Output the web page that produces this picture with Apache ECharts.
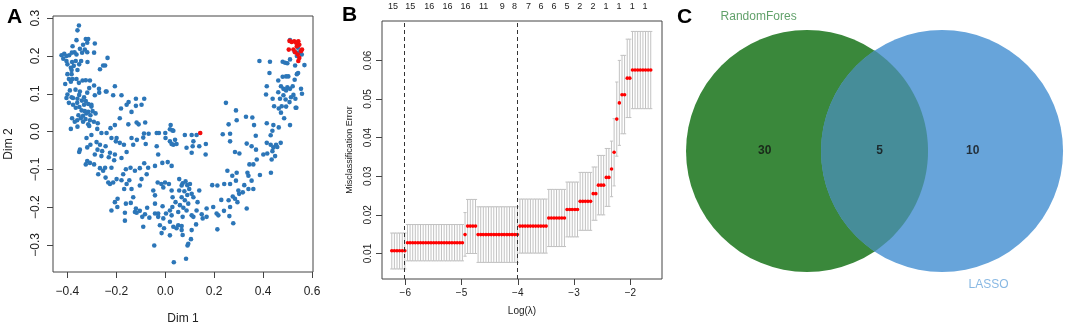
<!DOCTYPE html>
<html>
<head>
  <meta charset="utf-8">
  <script src="https://cdn.jsdelivr.net/npm/echarts@6.0.0/dist/echarts.min.js"></script>
</head>
<body style="margin: 0">
  <div id="container" style="width: 1065px; height: 330px"></div>
  <script>
    // ---- panel A : PCA of samples ----
    var pcaBlue = [
      [-0.353,0.281],[-0.359,0.268],[-0.363,0.242],[-0.325,0.245],[-0.315,0.245],[-0.319,0.235],[-0.288,0.233],
      [-0.336,0.230],[-0.379,0.226],[-0.349,0.219],[-0.329,0.217],[-0.371,0.210],[-0.340,0.209],[-0.393,0.202],
      [-0.382,0.209],[-0.363,0.204],[-0.319,0.210],[-0.291,0.209],[-0.318,0.184],[-0.344,0.187],[-0.366,0.187],
      [-0.381,0.184],[-0.404,0.200],[-0.413,0.206],[-0.424,0.202],[-0.417,0.193],[-0.404,0.187],[-0.400,0.178],
      [-0.386,0.169],[-0.374,0.174],[-0.352,0.178],[-0.383,0.163],[-0.359,0.163],[-0.383,0.152],[-0.400,0.152],
      [-0.379,0.139],[-0.363,0.139],[-0.338,0.135],[-0.394,0.139],[-0.409,0.126],[-0.386,0.132],[-0.353,0.129],
      [-0.325,0.136],[-0.308,0.135],[-0.291,0.122],[-0.271,0.113],[-0.311,0.115],[-0.270,0.103],[-0.243,0.106],
      [-0.288,0.096],[-0.319,0.103],[-0.349,0.106],[-0.367,0.111],[-0.390,0.109],[-0.400,0.098],[-0.404,0.089],
      [-0.383,0.091],[-0.352,0.097],[-0.377,0.089],[-0.359,0.087],[-0.332,0.091],[-0.394,0.076],[-0.377,0.071],
      [-0.360,0.076],[-0.341,0.082],[-0.325,0.081],[-0.315,0.073],[-0.302,0.066],[-0.332,0.071],[-0.351,0.065],
      [-0.366,0.063],[-0.342,0.056],[-0.329,0.054],[-0.315,0.052],[-0.297,0.054],[-0.322,0.048],[-0.355,0.043],
      [-0.336,0.042],[-0.306,0.043],[-0.285,0.048],[-0.345,0.035],[-0.326,0.033],[-0.308,0.030],[-0.292,0.026],
      [-0.360,0.030],[-0.381,0.035],[-0.370,0.026],[-0.336,0.026],[-0.315,0.019],[-0.276,0.022],[-0.359,0.013],
      [-0.386,0.007],[-0.311,0.015],[-0.302,0.071],[-0.267,0.165],[-0.254,0.175],[-0.246,0.175],[-0.236,0.195],
      [-0.240,0.106],[-0.206,0.120],[-0.213,0.096],[-0.179,0.096],[-0.150,0.078],[-0.158,0.071],[-0.120,0.087],
      [-0.086,0.087],[-0.097,0.071],[-0.181,0.061],[-0.120,0.068],[-0.138,0.052],[-0.117,0.024],[-0.109,0.019],
      [-0.082,0.024],[-0.151,0.019],[-0.186,0.035],[-0.206,0.017],[-0.224,0.009],[-0.220,-0.017],[-0.199,-0.017],
      [-0.240,-0.004],[-0.261,-0.004],[-0.278,0.007],[-0.302,-0.009],[-0.322,-0.017],[-0.306,-0.035],[-0.319,-0.042],
      [-0.349,-0.048],[-0.352,-0.054],[-0.281,-0.028],[-0.267,-0.035],[-0.277,-0.048],[-0.258,-0.052],[-0.244,-0.039],
      [-0.261,-0.065],[-0.288,-0.061],[-0.319,-0.078],[-0.308,-0.083],[-0.325,-0.087],[-0.291,-0.087],[-0.267,-0.097],
      [-0.254,-0.104],[-0.274,-0.113],[-0.244,-0.122],[-0.233,-0.135],[-0.226,-0.139],[-0.213,-0.135],[-0.179,-0.070],
      [-0.169,-0.035],[-0.186,-0.030],[-0.158,-0.054],[-0.131,-0.035],[-0.116,-0.022],[-0.090,-0.016],[-0.080,-0.033],
      [-0.068,-0.006],[-0.087,-0.005],[-0.138,-0.017],[-0.226,-0.056],[-0.206,-0.061],[-0.209,-0.076],[-0.231,-0.068],
      [-0.202,-0.026],[-0.246,-0.096],[-0.220,-0.096],[-0.161,-0.100],[-0.172,-0.113],[-0.142,-0.096],[-0.124,-0.104],
      [-0.104,-0.097],[-0.086,-0.084],[-0.076,-0.113],[-0.097,-0.126],[-0.104,-0.143],[-0.138,-0.152],[-0.158,-0.139],
      [-0.179,-0.129],[-0.199,-0.126],[-0.147,-0.129],[-0.168,-0.152],[-0.131,-0.174],[-0.195,-0.178],[-0.206,-0.187],
      [-0.220,-0.209],[-0.196,-0.200],[-0.165,-0.215],[-0.141,-0.189],[-0.161,-0.191],[-0.124,-0.213],[-0.120,-0.204],
      [-0.104,-0.210],[-0.074,-0.202],[-0.083,-0.219],[-0.065,-0.228],[-0.042,-0.217],[-0.094,-0.226],[-0.090,-0.252],
      [-0.165,-0.236],[-0.117,-0.215],
      [-0.035,-0.004],[0.000,-0.004],[0.022,0.017],[0.029,0.003],[0.001,-0.017],[0.019,-0.026],[0.040,-0.022],
      [0.033,-0.035],[-0.035,-0.039],[-0.029,-0.061],[-0.012,-0.083],[0.010,-0.081],[0.026,-0.091],[-0.042,-0.091],
      [-0.070,-0.096],[-0.049,-0.156],[-0.042,-0.169],[-0.031,-0.135],[-0.016,-0.139],[-0.008,-0.148],[-0.001,-0.135],
      [0.015,-0.139],[0.026,-0.156],[0.057,-0.126],[0.071,-0.137],[0.083,-0.132],[0.090,-0.142],[0.101,-0.139],
      [0.067,-0.143],[0.098,-0.152],[0.078,-0.158],[0.057,-0.156],[0.090,-0.168],[0.108,-0.165],[0.139,-0.156],
      [0.115,-0.174],[0.132,-0.187],[0.030,-0.174],[0.042,-0.187],[0.067,-0.174],[0.080,-0.182],[0.094,-0.191],
      [0.060,-0.195],[0.074,-0.202],[0.029,-0.200],[0.019,-0.209],[0.003,-0.217],[-0.011,-0.198],[-0.029,-0.217],
      [0.026,-0.222],[0.053,-0.213],[0.071,-0.226],[0.087,-0.209],[0.108,-0.222],[0.128,-0.209],[0.149,-0.219],
      [0.153,-0.230],[0.169,-0.204],[0.196,-0.200],[0.210,-0.217],[0.115,-0.226],[0.053,-0.248],[0.067,-0.250],
      [0.046,-0.256],[0.033,-0.252],[-0.022,-0.248],[-0.005,-0.256],[-0.015,-0.269],[0.019,-0.275],[0.067,-0.261],
      [0.071,-0.274],[0.108,-0.261],[0.126,-0.246],[0.169,-0.226],[-0.045,-0.302],[0.035,-0.346],[0.085,-0.337],
      [0.091,-0.302],[0.094,-0.297],[0.105,-0.285],[-0.029,-0.226],[-0.042,-0.191],[0.019,-0.239],[-0.008,-0.230],
      [-0.026,-0.004],[0.019,0.006],[0.033,0.002],[0.026,-0.033],[0.046,-0.033],[0.080,-0.009],[0.108,-0.009],
      [0.128,-0.009],[0.115,-0.026],[0.112,-0.039],[0.139,-0.039],[0.166,-0.033],[0.165,-0.061],[0.108,-0.056],
      [0.087,-0.043],
      [0.248,0.076],[0.289,0.056],[0.292,0.030],[0.259,0.019],[0.265,-0.006],[0.235,-0.007],[0.265,-0.026],
      [0.330,0.039],[0.356,0.037],[0.363,0.017],[0.370,-0.011],[0.333,-0.032],[0.353,-0.039],[0.371,-0.048],
      [0.374,-0.074],[0.360,-0.087],[0.344,-0.087],[0.336,-0.109],[0.340,-0.117],[0.353,-0.130],[0.360,-0.152],
      [0.340,-0.152],[0.323,-0.142],[0.317,-0.161],[0.285,-0.054],[0.303,-0.058],[0.254,-0.104],[0.274,-0.117],
      [0.265,-0.139],[0.292,-0.109],[0.289,-0.130],[0.241,-0.139],[0.213,-0.143],[0.192,-0.142],[0.229,-0.181],
      [0.259,-0.182],[0.276,-0.172],[0.285,-0.178],[0.295,-0.187],[0.299,-0.156],[0.302,-0.165],[0.265,-0.200],
      [0.262,-0.224],[0.278,-0.243],[0.240,-0.210],[0.217,-0.222],[0.333,-0.204],[0.213,-0.259],[0.387,-0.115],
      [0.417,-0.058],[0.431,-0.035],[0.438,-0.052],[0.442,-0.042],[0.453,-0.035],[0.458,-0.041],[0.472,-0.030],
      [0.435,-0.074],[0.449,-0.065],[0.401,-0.061],[0.415,-0.030],[0.432,-0.109],[0.431,-0.010],[0.438,0.002],
      [0.442,0.017],[0.464,0.011],[0.486,0.035],[0.473,0.050],[0.464,0.061],[0.476,0.067],[0.494,0.066],
      [0.508,0.078],[0.510,0.017],[0.536,0.063],[0.415,0.022],
      [0.385,0.187],[0.428,0.185],[0.480,0.185],[0.490,0.182],[0.426,0.155],[0.415,0.120],[0.412,0.098],
      [0.439,0.087],[0.469,0.087],[0.492,0.085],[0.445,0.067],[0.462,0.135],[0.480,0.145],[0.494,0.146],
      [0.503,0.146],[0.473,0.120],[0.483,0.113],[0.494,0.109],[0.499,0.117],[0.510,0.113],[0.462,0.104],
      [0.483,0.096],[0.521,0.120],[0.529,0.137],[0.538,0.152],[0.543,0.155],[0.531,0.175],[0.555,0.113],
      [0.559,0.100],[0.524,0.097],[0.514,0.091],[0.532,0.087],[0.533,0.063],[0.569,0.176],[0.544,0.209],
      [0.510,0.191],[0.499,0.181],
      [0.510,0.242],[0.542,0.222],[0.551,0.209],[0.529,0.211],[0.538,0.200],[0.558,0.204]
    ];
    var pcaRed = [
      [0.143,-0.004],
      [0.508,0.240],[0.517,0.237],[0.527,0.239],[0.538,0.236],[0.544,0.239],[0.548,0.230],[0.538,0.226],
      [0.524,0.217],[0.505,0.217],[0.531,0.210],[0.542,0.204],[0.548,0.195],[0.544,0.187],[0.555,0.213],
      [0.559,0.217],[0.535,0.235]
    ];
    var pcaXTicks = [-0.4, -0.2, 0, 0.2, 0.4, 0.6];
    var pcaYTicks = [-0.3, -0.2, -0.1, 0, 0.1, 0.2, 0.3];

    // ---- panel B : LASSO cross-validation ----
    var logLambda = [
      -6.240,-6.194,-6.147,-6.101,-6.054,-6.008,-5.961,-5.915,-5.868,-5.822,
      -5.775,-5.729,-5.682,-5.636,-5.589,-5.543,-5.496,-5.450,-5.403,-5.357,
      -5.310,-5.264,-5.217,-5.171,-5.124,-5.078,-5.031,-4.985,-4.938,-4.892,
      -4.845,-4.799,-4.752,-4.706,-4.659,-4.613,-4.566,-4.520,-4.473,-4.427,
      -4.380,-4.334,-4.287,-4.241,-4.194,-4.148,-4.101,-4.055,-4.008,-3.962,
      -3.915,-3.869,-3.822,-3.776,-3.729,-3.683,-3.636,-3.590,-3.543,-3.497,
      -3.450,-3.404,-3.357,-3.311,-3.264,-3.218,-3.171,-3.125,-3.078,-3.032,
      -2.985,-2.939,-2.892,-2.846,-2.799,-2.753,-2.706,-2.660,-2.613,-2.567,
      -2.520,-2.474,-2.427,-2.381,-2.334,-2.288,-2.241,-2.195,-2.148,-2.102,
      -2.055,-2.009,-1.962,-1.916,-1.869,-1.823,-1.776,-1.730,-1.683,-1.637
    ];
    var cvMean = [
      0.0107,0.0107,0.0107,0.0107,0.0107,0.0107,0.0128,0.0128,0.0128,0.0128,
      0.0128,0.0128,0.0128,0.0128,0.0128,0.0128,0.0128,0.0128,0.0128,0.0128,
      0.0128,0.0128,0.0128,0.0128,0.0128,0.0128,0.0128,0.0128,0.0149,0.0171,
      0.0171,0.0171,0.0171,0.0149,0.0149,0.0149,0.0149,0.0149,0.0149,0.0149,
      0.0149,0.0149,0.0149,0.0149,0.0149,0.0149,0.0149,0.0149,0.0149,0.0171,
      0.0171,0.0171,0.0171,0.0171,0.0171,0.0171,0.0171,0.0171,0.0171,0.0171,
      0.0192,0.0192,0.0192,0.0192,0.0192,0.0192,0.0192,0.0214,0.0214,0.0214,
      0.0214,0.0214,0.0235,0.0235,0.0235,0.0235,0.0235,0.0255,0.0255,0.0277,
      0.0277,0.0277,0.0297,0.0297,0.0319,0.0362,0.0448,0.0490,0.0511,0.0511,
      0.0554,0.0554,0.0575,0.0575,0.0575,0.0575,0.0575,0.0575,0.0575,0.0575
    ];
    var cvUp = [
      0.0153,0.0153,0.0153,0.0153,0.0153,0.0153,0.0175,0.0175,0.0175,0.0175,
      0.0175,0.0175,0.0175,0.0175,0.0175,0.0175,0.0175,0.0175,0.0175,0.0175,
      0.0175,0.0175,0.0175,0.0175,0.0175,0.0175,0.0175,0.0175,0.0206,0.0240,
      0.0240,0.0240,0.0240,0.0221,0.0221,0.0221,0.0221,0.0221,0.0221,0.0221,
      0.0221,0.0221,0.0221,0.0221,0.0221,0.0221,0.0221,0.0221,0.0221,0.0241,
      0.0241,0.0241,0.0241,0.0241,0.0241,0.0241,0.0241,0.0241,0.0241,0.0241,
      0.0266,0.0266,0.0266,0.0266,0.0266,0.0266,0.0266,0.0285,0.0285,0.0285,
      0.0285,0.0285,0.0310,0.0310,0.0310,0.0310,0.0310,0.0324,0.0324,0.0354,
      0.0354,0.0354,0.0372,0.0372,0.0391,0.0449,0.0544,0.0600,0.0613,0.0613,
      0.0655,0.0655,0.0675,0.0675,0.0675,0.0675,0.0675,0.0675,0.0675,0.0675
    ];
    var cvLo = [
      0.0060,0.0060,0.0060,0.0060,0.0060,0.0060,0.0081,0.0081,0.0081,0.0081,
      0.0081,0.0081,0.0081,0.0081,0.0081,0.0081,0.0081,0.0081,0.0081,0.0081,
      0.0081,0.0081,0.0081,0.0081,0.0081,0.0081,0.0081,0.0081,0.0093,0.0100,
      0.0100,0.0100,0.0100,0.0077,0.0077,0.0077,0.0077,0.0077,0.0077,0.0077,
      0.0077,0.0077,0.0077,0.0077,0.0077,0.0077,0.0077,0.0077,0.0077,0.0101,
      0.0101,0.0101,0.0101,0.0101,0.0101,0.0101,0.0101,0.0101,0.0101,0.0101,
      0.0118,0.0118,0.0118,0.0118,0.0118,0.0118,0.0118,0.0143,0.0143,0.0143,
      0.0143,0.0143,0.0160,0.0160,0.0160,0.0160,0.0160,0.0186,0.0186,0.0200,
      0.0200,0.0200,0.0222,0.0222,0.0247,0.0275,0.0352,0.0380,0.0410,0.0410,
      0.0452,0.0452,0.0475,0.0475,0.0475,0.0475,0.0475,0.0475,0.0475,0.0475
    ];
    var lambdaMinLog = -6.008;
    var lambda1seLog = -4.008;
    var nzeroPos = [-6.219,-5.911,-5.573,-5.248,-4.928,-4.608,-4.276,-4.057,-3.808,
                    -3.588,-3.356,-3.125,-2.901,-2.663,-2.432,-2.201,-1.964,-1.739];
    var nzeroCount = ['15','15','16','16','16','11','9','8','7','6','6','5','2','2','1','1','1','1'];
    var cvXTicks = [-6, -5, -4, -3, -2];
    var cvYTicks = [0.01, 0.02, 0.03, 0.04, 0.05, 0.06];

    // ---- panel C : Venn diagram ----
    var vennSetNames = ['RandomFores', 'LASSO'];
    var vennCx = [0, 1.116];
    var vennCy = [0, 0];
    var vennR = [1, 1];
    var vennCounts = ['30', '5', '10'];
    var vennCountX = [-0.35, 0.60, 1.37];
    var vennNameX = [-0.40, 1.50];
    var vennNameY = [1.107, -1.107];

    var FONT = 'Liberation Sans, Arial, Helvetica, sans-serif';
    var dom = document.getElementById('container');
    var myChart = echarts.init(dom, null, { renderer: 'canvas' });

    function rNum(v, d) {
      var s = Math.abs(v) < 1e-9 ? (0).toFixed(d) : v.toFixed(d);
      return s.replace('-', '\u2212');
    }

    var option = {
      animation: false,
      title: [
        { text: 'A', left: 2, top: 2, textStyle: { fontFamily: FONT, fontSize: 21, fontWeight: 'bold', color: '#000' } },
        { text: 'B', left: 337, top: 0, textStyle: { fontFamily: FONT, fontSize: 21, fontWeight: 'bold', color: '#000' } },
        { text: 'C', left: 672, top: 2, textStyle: { fontFamily: FONT, fontSize: 21, fontWeight: 'bold', color: '#000' } }
      ],
      grid: [
        { left: 53, top: 16, width: 260, height: 260, show: true, borderColor: '#444', borderWidth: 1 },
        { left: 382, top: 21, width: 280, height: 258, show: true, borderColor: '#444', borderWidth: 1 },
        { left: 660, top: 0, width: 405, height: 330, show: false }
      ],
      xAxis: [
        {
          type: 'value', gridIndex: 0, min: -0.459, max: 0.604,
          axisLine: { show: false, onZero: false }, splitLine: { show: false },
          axisTick: { customValues: pcaXTicks, length: 6, lineStyle: { color: '#444' } },
          axisLabel: { customValues: pcaXTicks, margin: 14, fontSize: 12, fontFamily: FONT, color: '#222',
            formatter: function (v) { return rNum(v, 1); } },
          name: 'Dim 1', nameLocation: 'middle', nameGap: 41,
          nameTextStyle: { fontSize: 12, fontFamily: FONT, color: '#222' }
        },
        {
          type: 'value', gridIndex: 1, min: -6.414, max: -1.437,
          axisLine: { show: false, onZero: false }, splitLine: { show: false },
          axisTick: { customValues: cvXTicks, length: 6, lineStyle: { color: '#444' } },
          axisLabel: { customValues: cvXTicks, margin: 9, fontSize: 10, fontFamily: FONT, color: '#222',
            formatter: function (v) { return rNum(v, 0); } },
          name: 'Log(\u03bb)', nameLocation: 'middle', nameGap: 27,
          nameTextStyle: { fontSize: 10, fontFamily: FONT, color: '#222' }
        },
        {
          type: 'value', gridIndex: 1, position: 'top', min: -6.414, max: -1.437,
          axisLine: { show: false, onZero: false }, splitLine: { show: false }, axisTick: { show: false },
          axisLabel: { customValues: nzeroPos, margin: 10, fontSize: 9, fontFamily: FONT, color: '#222',
            formatter: function (v) {
              var best = 0;
              for (var i = 1; i < nzeroPos.length; i++) {
                if (Math.abs(nzeroPos[i] - v) < Math.abs(nzeroPos[best] - v)) best = i;
              }
              return nzeroCount[best];
            } }
        },
        { type: 'value', gridIndex: 2, min: -1.215, max: 2.132, show: false }
      ],
      yAxis: [
        {
          type: 'value', gridIndex: 0, min: -0.372, max: 0.306,
          axisLine: { show: false, onZero: false }, splitLine: { show: false },
          axisTick: { customValues: pcaYTicks, length: 6, lineStyle: { color: '#444' } },
          axisLabel: { customValues: pcaYTicks, rotate: 90, margin: 11, fontSize: 12, fontFamily: FONT, color: '#222',
            formatter: function (v) { return rNum(v, 1); } },
          name: 'Dim 2', nameLocation: 'middle', nameGap: 38,
          nameTextStyle: { fontSize: 12, fontFamily: FONT, color: '#222' }
        },
        {
          type: 'value', gridIndex: 1, min: 0.0034, max: 0.0702,
          axisLine: { show: false, onZero: false }, splitLine: { show: false },
          axisTick: { customValues: cvYTicks, length: 6, lineStyle: { color: '#444' } },
          axisLabel: { customValues: cvYTicks, rotate: 90, margin: 9, fontSize: 10, fontFamily: FONT, color: '#222',
            formatter: function (v) { return rNum(v, 2); } },
          name: 'Misclassification Error', nameLocation: 'middle', nameGap: 28,
          nameTextStyle: { fontSize: 9, fontFamily: FONT, color: '#222' }
        },
        { type: 'value', gridIndex: 2, min: -1.479, max: 1.248, show: false }
      ],
      series: [
        // A
        {
          type: 'scatter', xAxisIndex: 0, yAxisIndex: 0, data: pcaBlue,
          symbolSize: 4.6, itemStyle: { color: '#2c76b8', opacity: 1 }, z: 2, silent: true
        },
        {
          type: 'scatter', xAxisIndex: 0, yAxisIndex: 0, data: pcaRed,
          symbolSize: 4.6, itemStyle: { color: '#f20d0d', opacity: 1 }, z: 3, silent: true
        },
        // B error bars
        {
          type: 'custom', xAxisIndex: 1, yAxisIndex: 1, silent: true, z: 2,
          data: logLambda.map(function (x, i) { return [x, cvLo[i], cvUp[i]]; }),
          renderItem: function (params, api) {
            var top = api.coord([api.value(0), api.value(2)]);
            var bot = api.coord([api.value(0), api.value(1)]);
            var st = { stroke: '#c2c2c2', lineWidth: 1 };
            return {
              type: 'group',
              children: [
                { type: 'line', shape: { x1: top[0], y1: top[1], x2: bot[0], y2: bot[1] }, style: st },
                { type: 'line', shape: { x1: top[0] - 1.6, y1: top[1], x2: top[0] + 1.6, y2: top[1] }, style: st },
                { type: 'line', shape: { x1: bot[0] - 1.6, y1: bot[1], x2: bot[0] + 1.6, y2: bot[1] }, style: st }
              ]
            };
          }
        },
        {
          type: 'scatter', xAxisIndex: 1, yAxisIndex: 1, silent: true, z: 3,
          data: logLambda.map(function (x, i) { return [x, cvMean[i]]; }),
          symbolSize: 3.6, itemStyle: { color: '#ff0000', opacity: 1 },
          markLine: {
            silent: true, symbol: 'none', label: { show: false },
            lineStyle: { color: '#333', width: 1, type: [4, 3] },
            data: [{ xAxis: lambdaMinLog }, { xAxis: lambda1seLog }]
          }
        },
        // C circles
        {
          type: 'custom', xAxisIndex: 3, yAxisIndex: 2, silent: true, z: 2,
          data: vennCx.map(function (cx, i) { return [cx, vennCy[i], vennR[i], i]; }),
          renderItem: function (params, api) {
            var c = api.coord([api.value(0), api.value(1)]);
            var r = api.size([api.value(2), 0])[0];
            var colors = ['#3a883b', '#67a4da'];
            return { type: 'circle', shape: { cx: c[0], cy: c[1], r: r }, style: { fill: colors[api.value(3)] } };
          }
        },
        {
          type: 'custom', xAxisIndex: 3, yAxisIndex: 2, silent: true, z: 3,
          data: [[0]],
          renderItem: function (params, api) {
            var d = vennCx[1] - vennCx[0];
            var th = Math.acos(d / 2 / vennR[0]);
            var pts = [];
            var n = 60, k, a;
            for (k = 0; k <= n; k++) {
              a = -th + 2 * th * k / n;
              pts.push(api.coord([vennCx[0] + vennR[0] * Math.cos(a), vennCy[0] + vennR[0] * Math.sin(a)]));
            }
            for (k = 0; k <= n; k++) {
              a = Math.PI - th + 2 * th * k / n;
              pts.push(api.coord([vennCx[1] + vennR[1] * Math.cos(a), vennCy[1] + vennR[1] * Math.sin(a)]));
            }
            return { type: 'polygon', shape: { points: pts }, style: { fill: '#468d99' } };
          }
        },
        {
          type: 'scatter', xAxisIndex: 3, yAxisIndex: 2, silent: true, z: 4, symbolSize: 0,
          data: vennCountX.map(function (x, i) { return { value: [x, 0], name: vennCounts[i] }; }),
          label: { show: true, position: 'inside', formatter: '{b}', fontFamily: FONT, fontSize: 12,
            fontWeight: 'bold', color: '#111' }
        },
        {
          type: 'scatter', xAxisIndex: 3, yAxisIndex: 2, silent: true, z: 4, symbolSize: 0,
          data: vennNameX.map(function (x, i) {
            return { value: [x, vennNameY[i]], name: vennSetNames[i],
              label: { color: i === 0 ? '#3a8a45' : '#6aa6dc' } };
          }),
          label: { show: true, position: 'inside', formatter: '{b}', fontFamily: FONT, fontSize: 12 }
        }
      ]
    };

    myChart.setOption(option);
    window.addEventListener('resize', myChart.resize);
  </script>
</body>
</html>
